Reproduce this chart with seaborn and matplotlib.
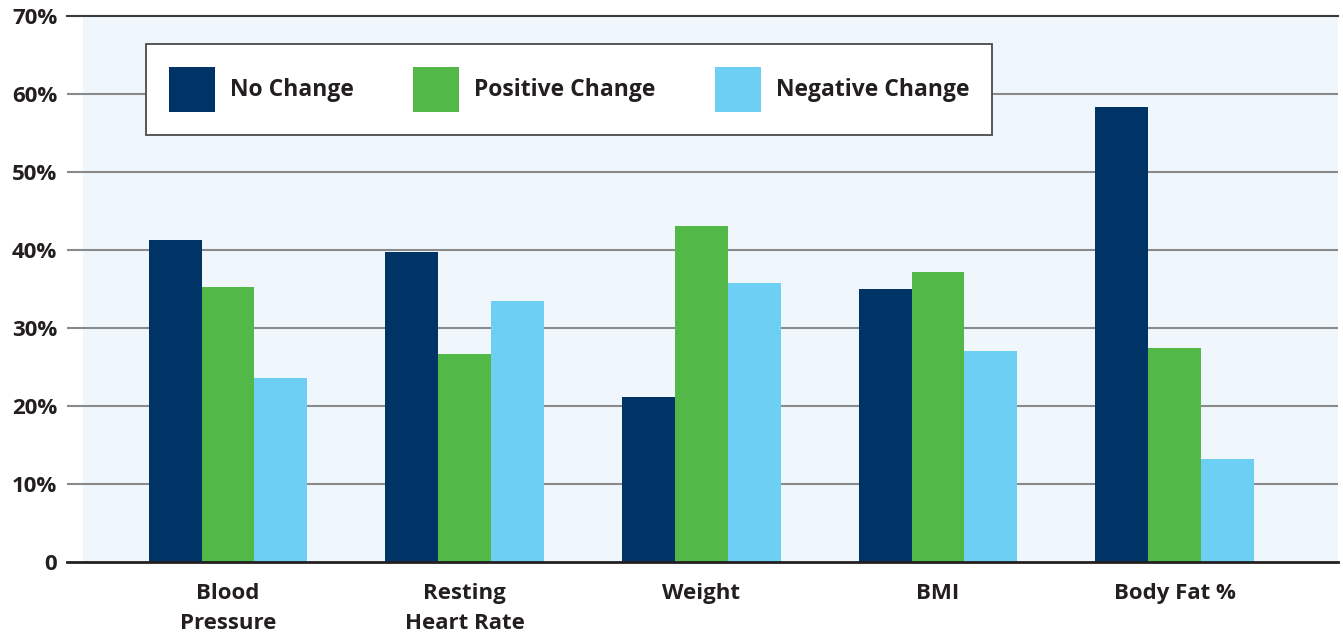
import pandas as pd
import matplotlib.pyplot as plt
import seaborn as sns
from matplotlib.patches import Rectangle

categories = ["Blood\nPressure", "Resting\nHeart Rate", "Weight", "BMI", "Body Fat %"]
series = ["No Change", "Positive Change", "Negative Change"]
no_change = [41.3, 39.7, 21.2, 35.0, 58.3]
positive_change = [35.3, 26.7, 43.1, 37.2, 27.4]
negative_change = [23.6, 33.5, 35.8, 27.1, 13.2]
y_ticks = [0, 10, 20, 30, 40, 50, 60, 70]
y_labels = ["0", "10%", "20%", "30%", "40%", "50%", "60%", "70%"]

colors = ["#003366", "#52b848", "#6dcff3"]
text_color = "#231f20"

df = pd.DataFrame({
    "category": categories * 3,
    "series": [s for s in series for _ in categories],
    "value": no_change + positive_change + negative_change,
})

sns.set_style("white")
plt.rcParams["font.family"] = ["Open Sans", "DejaVu Sans"]
plt.rcParams["font.weight"] = "bold"

W, H = 1343, 638
fig = plt.figure(figsize=(W / 100, H / 100), dpi=100)
ax_l, ax_r, ax_t, ax_b = 67, 1338, 16, 562
ax = fig.add_axes([ax_l / W, 1 - ax_b / H, (ax_r - ax_l) / W, (ax_b - ax_t) / H])
ax.set_facecolor("white")

# light blue plot background starts a little right of the gridline start
bg_x = (83 - ax_l) / (ax_r - ax_l)
ax.add_patch(Rectangle((bg_x, 0), 1 - bg_x, 1, transform=ax.transAxes,
                       facecolor="#eff7fd", edgecolor="none", zorder=0))

sns.barplot(data=df, x="category", y="value", hue="series", palette=colors,
            width=0.67, gap=0, saturation=1, edgecolor="none", ax=ax, zorder=3)

ax.set_xlim(-0.68, 4.69)
ax.set_ylim(0, 70)
ax.set_yticks(y_ticks)
ax.set_yticklabels(y_labels)
for y in y_ticks[1:-1]:
    ax.axhline(y, color="#8a8a8a", lw=1.5, zorder=1)

for side in ["left", "right"]:
    ax.spines[side].set_visible(False)
ax.spines["top"].set_color("#3a3a3a")
ax.spines["top"].set_linewidth(1.5)
ax.spines["bottom"].set_color(text_color)
ax.spines["bottom"].set_linewidth(2)
ax.spines["bottom"].set_zorder(4)

ax.tick_params(axis="y", length=0, pad=7, labelsize=16, labelcolor=text_color)
ax.tick_params(axis="x", length=0, pad=15, labelsize=16, labelcolor=text_color)
for lbl in ax.get_xticklabels():
    lbl.set_linespacing(1.55)
    lbl.set_fontweight("bold")
for lbl in ax.get_yticklabels():
    lbl.set_fontweight("bold")
ax.set_xlabel("")
ax.set_ylabel("")

handles, labels = ax.get_legend_handles_labels()
leg = ax.legend(handles, labels, ncol=3, loc="upper left",
                bbox_to_anchor=((146 - ax_l) / (ax_r - ax_l), 1 - (44 - ax_t) / (ax_b - ax_t)),
                borderaxespad=0, frameon=True, fancybox=False,
                prop={"size": 16.5, "weight": "bold"},
                handlelength=2.0, handleheight=2.65, handletextpad=0.65,
                columnspacing=2.6, borderpad=1.0)
leg.get_frame().set_edgecolor("#4a4a4a")
leg.get_frame().set_linewidth(1.3)
leg.get_frame().set_alpha(1)
for t in leg.get_texts():
    t.set_color(text_color)

fig.savefig("out.png", dpi=100)
